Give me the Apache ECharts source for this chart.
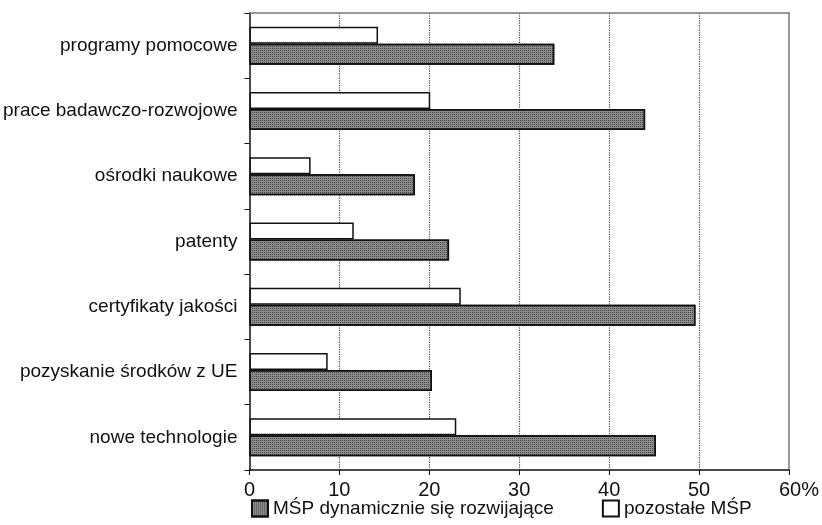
<!DOCTYPE html>
<html>
<head>
<meta charset="utf-8">
<script src="https://cdn.jsdelivr.net/npm/echarts@6/dist/echarts.min.js"></script>
<style>
  html, body { margin: 0; padding: 0; background: #fff; }
  #chart { width: 822px; height: 525px; }
</style>
</head>
<body>
<div id="chart"></div>
<script>
// kategorie od góry do dołu
var categories = [
  'programy pomocowe',
  'prace badawczo-rozwojowe',
  'ośrodki naukowe',
  'patenty',
  'certyfikaty jakości',
  'pozyskanie środków z UE',
  'nowe technologie'
];
// wartości w %
var dynamiczne = [33.9, 44.0, 18.4, 22.2, 49.6, 20.3, 45.2];
var pozostale = [14.3, 20.1, 6.8, 11.6, 23.5, 8.7, 23.0];
var xTicks = ['0', '10', '20', '30', '40', '50', '60%'];

var myChart = echarts.init(document.getElementById('chart'));

// szara ramka u góry i z prawej
var frameLine = { show: true, onZero: false, lineStyle: { color: '#777', width: 1.5 } };

var option = {
  backgroundColor: '#fff',
  animation: false,
  textStyle: { fontFamily: 'Liberation Sans, Arial, sans-serif' },
  grid: {
    left: 248,
    right: 32,
    top: 13,
    bottom: 55
  },
  legend: {
    data: ['MŚP dynamicznie się rozwijające', 'pozostałe MŚP'],
    bottom: 2,
    left: 246,
    itemGap: 48,
    itemWidth: 16,
    itemHeight: 16,
    icon: 'rect',
    textStyle: { fontSize: 19, color: '#111' }
  },
  xAxis: [
    {
      type: 'value',
      min: 0,
      max: 60,
      interval: 10,
      axisLine: { show: true, lineStyle: { color: '#111', width: 1.5 } },
      axisTick: { show: true, length: 5, lineStyle: { color: '#111' } },
      axisLabel: {
        fontSize: 20,
        color: '#111',
        margin: 10,
        formatter: function (v) {
          var t = xTicks[Math.round(v / 10)];
          // "%" dopisany za ostatnią liczbą, liczba nad kreską
          return v === 60 ? '{last|' + t + '}' : t;
        },
        rich: {
          last: { fontSize: 20, color: '#111', padding: [0, 0, 0, 20] }
        }
      },
      splitLine: {
        show: true,
        showMinLine: false,
        showMaxLine: false,
        lineStyle: { type: 'dotted', color: '#444', width: 1.2 }
      }
    },
    {
      type: 'value',
      position: 'top',
      min: 0,
      max: 60,
      interval: 10,
      axisLine: frameLine,
      axisTick: { show: false },
      axisLabel: { show: false },
      splitLine: { show: false }
    }
  ],
  yAxis: [
    {
      type: 'category',
      data: categories,
      inverse: true,
      axisLine: { show: true, lineStyle: { color: '#111', width: 1.5 } },
      axisTick: { show: true, length: 5, lineStyle: { color: '#111' } },
      axisLabel: { fontSize: 19, color: '#111', margin: 12 },
      splitLine: { show: false }
    },
    {
      type: 'category',
      data: categories,
      inverse: true,
      position: 'right',
      axisLine: frameLine,
      axisTick: { show: false },
      axisLabel: { show: false },
      splitLine: { show: false }
    }
  ],
  series: [
    {
      name: 'pozostałe MŚP',
      type: 'bar',
      data: pozostale,
      barWidth: 17,
      barGap: '0%',
      itemStyle: { color: '#fff', borderColor: '#111', borderWidth: 1.5 }
    },
    {
      name: 'MŚP dynamicznie się rozwijające',
      type: 'bar',
      data: dynamiczne,
      barWidth: 21,
      barGap: '0%',
      itemStyle: {
        color: '#8c8c8c',
        borderColor: '#111',
        borderWidth: 1.5,
        decal: {
          symbol: 'rect',
          symbolSize: 1,
          color: 'rgba(20,20,20,0.55)',
          dashArrayX: [1, 1],
          dashArrayY: [1, 1],
          rotation: 0
        }
      }
    }
  ]
};

myChart.setOption(option);
window.addEventListener('resize', function () {
  myChart.resize();
});
</script>
</body>
</html>
